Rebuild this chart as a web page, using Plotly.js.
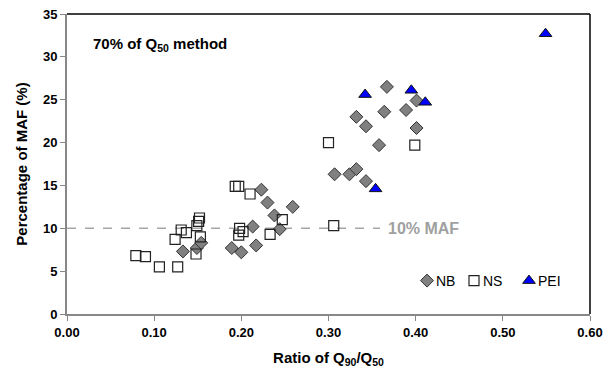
<!DOCTYPE html>
<html>
<head>
<meta charset="utf-8">
<script src="https://cdn.plot.ly/plotly-3.0.1.min.js"></script>
<style>html,body{margin:0;padding:0;background:#fff;}#chart{width:611px;height:377px;}</style>
</head>
<body>
<div id="chart"></div>
<script>
// NB (diamonds)
const nbX = [0.133, 0.149, 0.154, 0.189, 0.200, 0.217, 0.213, 0.223, 0.230, 0.238, 0.244, 0.259, 0.307, 0.324, 0.332, 0.343, 0.358, 0.332, 0.343, 0.364, 0.367, 0.389, 0.401, 0.401];
const nbY = [7.3, 7.7, 8.3, 7.7, 7.2, 8.0, 10.2, 14.5, 13.0, 11.5, 9.9, 12.5, 16.3, 16.3, 16.9, 15.5, 19.7, 23.0, 21.9, 23.6, 26.5, 23.8, 24.9, 21.7];
// NS (open squares)
const nsX = [0.079, 0.090, 0.106, 0.127, 0.124, 0.131, 0.137, 0.148, 0.149, 0.152, 0.151, 0.153, 0.193, 0.197, 0.210, 0.198, 0.202, 0.197, 0.233, 0.247, 0.306, 0.300, 0.399];
const nsY = [6.8, 6.7, 5.5, 5.5, 8.7, 9.8, 9.5, 7.0, 10.3, 11.2, 10.8, 9.0, 14.9, 14.9, 14.0, 10.0, 9.6, 9.2, 9.3, 11.0, 10.3, 20.0, 19.7];
// PEI (triangles)
const peiX = [0.342, 0.395, 0.411, 0.354, 0.549];
const peiY = [25.6, 26.1, 24.7, 14.6, 32.7];
const xTicks = [0, 0.1, 0.2, 0.3, 0.4, 0.5, 0.6];
const yTicks = [0, 5, 10, 15, 20, 25, 30, 35];

const traces = [
  {x: nbX, y: nbY, name: 'NB', type: 'scatter', mode: 'markers',
   marker: {symbol: 'diamond', size: 10, color: '#808080', line: {color: '#333333', width: 1}}},
  {x: nsX, y: nsY, name: 'NS', type: 'scatter', mode: 'markers',
   marker: {symbol: 'square', size: 10, color: 'rgba(255,255,255,0)', line: {color: '#222222', width: 1.2}}},
  {x: peiX, y: peiY, name: 'PEI', type: 'scatter', mode: 'markers',
   marker: {symbol: 'triangle-up', size: 11, color: '#0000ff', line: {color: '#111111', width: 1}}}
];

const font = 'Arial, "Liberation Sans", sans-serif';
const layout = {
  width: 611, height: 377,
  margin: {l: 67, r: 21, t: 14, b: 63},
  paper_bgcolor: '#ffffff', plot_bgcolor: '#ffffff',
  font: {family: font, color: '#000'},
  showlegend: true,
  legend: {orientation: 'h', x: 0.955, y: 0.11, xanchor: 'right', yanchor: 'middle',
           font: {size: 14, family: font, color: '#000'}, bgcolor: 'rgba(0,0,0,0)', itemwidth: 30, tracegroupgap: 0},
  xaxis: {range: [0, 0.6], tickvals: xTicks, ticktext: xTicks.map(v => v.toFixed(2)),
          showgrid: false, zeroline: false, showline: true, linecolor: '#888888', linewidth: 2,
          ticks: 'outside', ticklen: 5, tickcolor: '#888888', tickwidth: 1,
          tickfont: {size: 13, family: font, color: '#000', weight: 'bold'},
          title: {text: '<b>Ratio of Q<sub>90</sub>/Q<sub>50</sub></b>', font: {size: 15, family: font}, standoff: 14}},
  yaxis: {range: [0, 35], tickvals: yTicks, showgrid: false, zeroline: false,
          showline: true, linecolor: '#888888', linewidth: 2,
          ticks: 'outside', ticklen: 5, tickcolor: '#888888', tickwidth: 1,
          tickfont: {size: 13, family: font, color: '#000', weight: 'bold'},
          title: {text: '<b>Percentage of MAF (%)</b>', font: {size: 15, family: font}, standoff: 12}},
  shapes: [
    {type: 'line', xref: 'paper', yref: 'paper', x0: 0, x1: 1, y0: 1, y1: 1, line: {color: '#000', width: 1.5}},
    {type: 'line', xref: 'paper', yref: 'paper', x0: 1, x1: 1, y0: 0, y1: 1, line: {color: '#000', width: 1.5}},
    {type: 'line', xref: 'x', yref: 'y', x0: 0, x1: 0.359, y0: 10, y1: 10, layer: 'below',
     line: {color: '#a6a6a6', width: 1.5, dash: 'dash'}}
  ],
  annotations: [
    {xref: 'paper', yref: 'paper', x: 0.046, y: 0.897, xanchor: 'left', yanchor: 'middle', showarrow: false,
     text: '<b>70% of Q<sub>50</sub> method</b>', font: {size: 15, family: font, color: '#000'}},
    {xref: 'x', yref: 'y', x: 0.366, y: 10, xanchor: 'left', yanchor: 'middle', showarrow: false,
     text: '<b>10% MAF</b>', font: {size: 16, family: font, color: '#a0a0a0'}}
  ]
};

// legend entry placement (page x of each symbol's centre), to mimic the compact legend
const legendSymbolX = [427, 474, 529];

Plotly.newPlot('chart', traces, layout, {displayModeBar: false, staticPlot: true}).then(function (gd) {
  const groups = gd.querySelectorAll('.legend .traces');
  groups.forEach(function (g, i) {
    const pts = g.querySelector('.legendpoints');
    const txt = g.querySelector('text.legendtext');
    if (txt) txt.setAttribute('x', 29);
    if (!pts || legendSymbolX[i] === undefined) return;
    const r = pts.getBoundingClientRect();
    const cx = r.left + r.width / 2;
    const dx = legendSymbolX[i] - cx;
    const tr = g.getAttribute('transform') || '';
    const m = tr.match(/translate\(\s*([-\d.e]+)[ ,]+([-\d.e]+)\s*\)/);
    const tx = m ? parseFloat(m[1]) : 0;
    const ty = m ? parseFloat(m[2]) : 0;
    g.setAttribute('transform', 'translate(' + (tx + dx) + ',' + ty + ')');
  });
});
</script>
</body>
</html>
